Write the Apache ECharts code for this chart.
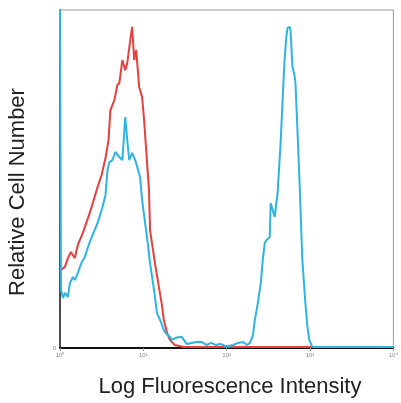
<!DOCTYPE html>
<html>
<head>
<meta charset="utf-8">
<script src="https://cdn.jsdelivr.net/npm/echarts@6/dist/echarts.min.js"></script>
<style>
  html, body { margin: 0; padding: 0; background: #fff; }
  #chart { width: 401px; height: 403px; }
</style>
</head>
<body>
<div id="chart"></div>
<script>
// x in decades (log10 of intensity), y = relative cell number (0-100)
var redX = [0.012, 0.059, 0.095, 0.131, 0.178, 0.214, 0.273, 0.320, 0.356, 0.404, 0.451, 0.499, 0.546, 0.582, 0.605, 0.653, 0.688, 0.712, 0.748, 0.783, 0.807, 0.843, 0.866, 0.890, 0.914, 0.950, 0.985, 1.009, 1.045, 1.068, 1.080, 1.116, 1.139, 1.187, 1.223, 1.246, 1.282, 1.318, 1.377, 1.484, 2.5, 3.03, 4.0]
var redY = [23.1, 24.0, 26.6, 28.4, 26.6, 30.5, 34.0, 37.3, 39.9, 43.8, 47.6, 51.2, 56.2, 61.5, 70.4, 73.4, 77.8, 78.4, 85.2, 82.2, 84.3, 91.1, 95.0, 85.2, 88.2, 77.2, 74.3, 67.5, 54.7, 46.7, 34.9, 29.0, 25.1, 18.0, 12.7, 8.3, 4.7, 2.4, 0.9, 0.3, 0.3, 0.3, 0.3]

var blueX = [0, 0.012, 0.036, 0.059, 0.095, 0.119, 0.154, 0.178, 0.214, 0.261, 0.297, 0.332, 0.368, 0.415, 0.451, 0.510, 0.546, 0.570, 0.593, 0.629, 0.665, 0.712, 0.748, 0.783, 0.807, 0.831, 0.866, 0.902, 0.926, 0.961, 0.985, 1.021, 1.056, 1.080, 1.128, 1.163, 1.211, 1.246, 1.270, 1.318, 1.341, 1.389, 1.460, 1.519, 1.579, 1.638, 1.697, 1.757, 1.816, 1.864, 1.923, 1.982, 2.018, 2.077, 2.136, 2.196, 2.243, 2.279, 2.315, 2.338, 2.374, 2.409, 2.433, 2.457, 2.481, 2.516, 2.528, 2.552, 2.576, 2.611, 2.647, 2.671, 2.694, 2.718, 2.730, 2.754, 2.766, 2.789, 2.813, 2.825, 2.849, 2.872, 2.908, 2.944, 2.967, 2.991, 3.027, 4.0]
var blueY = [100, 17.2, 14.8, 16.3, 15.1, 19.2, 21.0, 20.1, 22.2, 25.4, 26.9, 29.6, 32.0, 34.9, 37.0, 41.7, 45.3, 52.7, 55.0, 55.6, 58.0, 56.5, 55.6, 68.3, 61.5, 55.6, 57.7, 55.6, 53.6, 50.6, 43.8, 37.0, 30.5, 25.1, 17.2, 10.4, 7.7, 5.3, 4.4, 3.3, 2.4, 3.0, 3.3, 1.2, 1.5, 1.8, 1.8, 0.9, 1.5, 0.9, 1.2, 0.6, 0.6, 0.9, 1.5, 1.8, 0.9, 1.5, 3.8, 8.3, 13.3, 19.2, 26.0, 31.1, 32.0, 32.8, 42.9, 40.8, 38.8, 45.9, 60.7, 73.4, 85.2, 92.6, 94.7, 95.0, 94.1, 83.1, 80.8, 78.4, 64.5, 50.6, 26.0, 13.3, 6.8, 2.4, 0.3, 0.3]

var tickLabels = ['10\u2070', '10\u00b9', '10\u00b2', '10\u00b3', '10\u2074']

function pairs(xs, ys) {
    return xs.map(function (x, i) { return [x, ys[i]] })
}

var chart = echarts.init(document.getElementById('chart'), null, { renderer: 'canvas' })

var option = {
    animation: false,
    backgroundColor: '#fff',
    grid: {
        left: 60,
        top: 10,
        right: 4,
        bottom: 55,
        show: true,
        borderColor: '#9a9a9a',
        borderWidth: 1
    },
    xAxis: {
        type: 'value',
        min: 0,
        max: 4,
        interval: 1,
        axisLine: { show: true, onZero: false, lineStyle: { color: '#111', width: 2 } },
        axisTick: { show: true, length: 3, lineStyle: { color: '#999' } },
        splitLine: { show: false },
        axisLabel: {
            fontSize: 6,
            color: '#888',
            margin: 4,
            formatter: function (v) { return tickLabels[Math.round(v)] }
        }
    },
    yAxis: {
        type: 'value',
        min: 0,
        max: 100,
        interval: 100,
        axisLine: { show: true, lineStyle: { color: '#222', width: 1.5 } },
        axisTick: { show: false },
        splitLine: { show: false },
        axisLabel: {
            fontSize: 6,
            color: '#888',
            margin: 4,
            formatter: function (v) { return v === 0 ? '0' : '' }
        }
    },
    graphic: [
        {
            type: 'text',
            x: 230,
            y: 387,
            style: {
                text: 'Log Fluorescence Intensity',
                align: 'center',
                verticalAlign: 'middle',
                fontSize: 22,
                fontFamily: 'Liberation Sans, Arial, sans-serif',
                fill: '#222'
            }
        },
        {
            type: 'text',
            x: 18,
            y: 192,
            rotation: Math.PI / 2,
            style: {
                text: 'Relative Cell Number',
                align: 'center',
                verticalAlign: 'middle',
                fontSize: 22,
                fontFamily: 'Liberation Sans, Arial, sans-serif',
                fill: '#222'
            }
        }
    ],
    series: [
        {
            name: 'control',
            type: 'line',
            data: pairs(redX, redY),
            showSymbol: false,
            lineStyle: { color: '#e5403e', width: 2 },
            z: 2
        },
        {
            name: 'stained',
            type: 'line',
            data: pairs(blueX, blueY),
            showSymbol: false,
            lineStyle: { color: '#2cb4e2', width: 2 },
            z: 3
        }
    ]
}
chart.setOption(option)
</script>
</body>
</html>
